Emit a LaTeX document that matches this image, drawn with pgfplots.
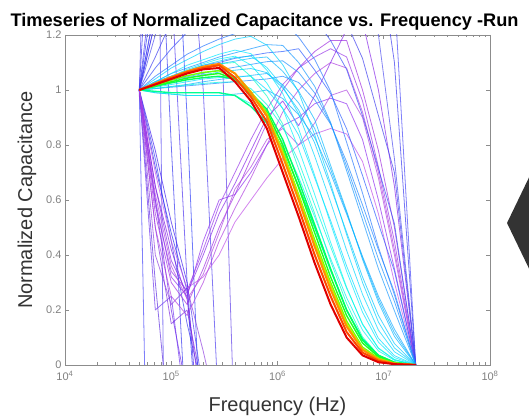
\documentclass[border=0pt]{standalone}
\usepackage{fontspec}
\setmainfont{Liberation Sans}
\usepackage{pgfplots}
\usepackage{pgfplotstable}
\pgfplotsset{compat=1.18}

\pgfplotstableread{
f r1 r2 r3 y1 g1 g2 g3 g4 c1 c9 c2 c3 c4 c5 c8 c6 c7 c10 c11 b1 b2 b3 b4 p1 p2 p3 p4 p5 v1 v2 v3
5e4 1.0 1.0 1.0 1.0 1.0 1.0 1.0 1.0 1.0 1.0 1.0 1.0 1.0 1.0 1.0 1.0 1.0 1.0 1.0 1.0 1.0 1.0 1.0 1.0 1.0 1.0 1.0 1.0 1.0 1.0 1.0
7.08e4 1.02 1.022 1.024 1.022 1.018 1.015 1.013 0.995 1.02 1.006 0.99 1.03 1.01 1.04 1.015 1.02 0.99 1.03 1.005 1.05 1.03 1.08 1.12 0.55 0.5 0.6 0.7 0.65 1.3 1.2 1.25
1e5 1.04 1.044 1.047 1.044 1.036 1.03 1.026 0.99 1.04 1.012 0.985 1.06 1.02 1.08 1.03 1.04 0.985 1.06 1.01 1.09 1.05 1.15 1.25 0.30 0.25 0.32 0.45 0.38 1.5 1.4 1.45
1.41e5 1.06 1.065 1.068 1.064 1.052 1.043 1.037 0.99 1.06 1.018 0.98 1.09 1.03 1.11 1.045 1.06 0.98 1.08 1.015 1.13 1.07 1.21 1.35 0.22 0.18 0.25 0.28 0.26 1.6 1.5 1.5
2e5 1.075 1.08 1.085 1.08 1.064 1.053 1.045 0.99 1.08 1.024 0.98 1.11 1.04 1.14 1.055 1.08 0.98 1.10 1.02 1.16 1.09 1.26 1.4 0.35 0.30 0.45 0.32 0.40 1.6 1.5 1.5
2.82e5 1.08 1.09 1.095 1.09 1.07 1.06 1.05 0.99 1.095 1.028 0.98 1.13 1.045 1.165 1.065 1.095 0.98 1.12 1.025 1.185 1.10 1.30 1.4 0.50 0.45 0.60 0.40 0.55 1.6 1.5 1.5
3.98e5 1.03 1.045 1.06 1.06 1.045 1.04 1.04 0.98 1.10 1.03 0.98 1.145 1.05 1.185 1.072 1.105 0.985 1.135 1.03 1.205 1.115 1.32 1.4 0.62 0.57 0.62 0.52 0.66 1.6 1.5 1.5
5.62e5 0.96 0.975 0.99 0.995 0.985 0.985 0.99 0.94 1.049 1.005 0.95 1.132 1.05 1.195 1.078 1.115 0.99 1.15 1.035 1.225 1.125 1.33 1.4 0.75 0.68 0.70 0.60 0.78 1.6 1.5 1.5
7.94e5 0.86 0.885 0.905 0.915 0.91 0.92 0.93 0.88 0.978 0.947 0.89 1.072 1.001 1.163 1.063 1.12 1.0 1.165 1.04 1.24 1.135 1.33 1.4 0.88 0.80 0.80 0.68 0.90 1.6 1.5 1.5
1.12e6 0.70 0.73 0.76 0.775 0.78 0.80 0.82 0.79 0.876 0.865 0.81 0.987 0.933 1.092 1.007 1.068 0.969 1.162 1.05 1.25 1.14 1.32 1.4 1.0 0.92 0.87 0.75 0.96 1.6 1.5 1.5
1.58e6 0.54 0.57 0.60 0.615 0.62 0.645 0.67 0.65 0.713 0.74 0.683 0.859 0.836 0.992 0.927 0.996 0.91 1.10 1.027 1.192 1.15 1.30 1.4 1.08 1.0 0.90 0.80 0.87 1.6 1.5 1.5
2.24e6 0.37 0.40 0.43 0.445 0.455 0.48 0.51 0.50 0.55 0.582 0.538 0.689 0.68 0.837 0.807 0.892 0.827 1.013 0.964 1.111 1.072 1.26 1.4 1.14 1.06 0.95 0.84 0.98 1.6 1.5 1.5
3.16e6 0.22 0.25 0.275 0.29 0.30 0.32 0.35 0.345 0.377 0.43 0.387 0.514 0.525 0.659 0.647 0.726 0.697 0.882 0.876 0.995 0.987 1.18 1.335 1.18 1.10 0.97 0.86 1.10 1.6 1.5 1.5
4.47e6 0.10 0.12 0.14 0.15 0.16 0.18 0.20 0.20 0.224 0.279 0.245 0.341 0.36 0.474 0.483 0.56 0.549 0.707 0.739 0.81 0.859 1.075 1.244 1.18 1.08 0.95 0.84 1.22 1.6 1.5 1.5
6.31e6 0.035 0.045 0.055 0.06 0.065 0.08 0.09 0.095 0.102 0.15 0.127 0.192 0.214 0.30 0.32 0.384 0.395 0.528 0.582 0.625 0.689 0.907 1.115 1.0 0.92 0.82 0.74 1.25 1.6 1.5 1.5
8.91e6 0.01 0.015 0.02 0.022 0.025 0.03 0.035 0.035 0.036 0.062 0.051 0.083 0.097 0.156 0.18 0.228 0.25 0.35 0.419 0.428 0.514 0.714 0.907 0.78 0.70 0.60 0.55 1.0 1.6 1.2 1.5
1.26e7 0.003 0.004 0.005 0.006 0.007 0.008 0.01 0.01 0.01 0.02 0.017 0.027 0.034 0.062 0.078 0.104 0.13 0.197 0.265 0.255 0.341 0.514 0.70 0.5 0.42 0.35 0.30 0.65 1.35 0.75 1.1
2e7 0 0 0 0 0 0 0 0 0 0 0 0 0 0 0 0 0 0 0 0 0 0 0 0 0 0 0 0 0 0 0
}\curves

\pgfplotstableread{
f c12 c13 c14 c15 p6 p7
5e4 1.0 1.0 1.0 1.0 1.0 1.0
7.08e4 1.025 1.005 1.018 1.025 0.58 0.62
1e5 1.05 1.013 1.035 1.05 0.34 0.36
1.41e5 1.07 1.02 1.048 1.075 0.27 0.24
2e5 1.09 1.03 1.06 1.095 0.42 0.33
2.82e5 1.105 1.038 1.073 1.113 0.58 0.48
3.98e5 1.118 1.045 1.083 1.123 0.70 0.64
5.62e5 1.123 1.053 1.093 1.091 0.82 0.72
7.94e5 1.082 1.06 1.103 1.025 0.93 0.82
1.12e6 1.013 1.019 1.106 0.932 1.02 0.86
1.58e6 0.914 0.953 1.064 0.786 1.08 0.80
2.24e6 0.759 0.86 0.989 0.62 1.12 0.88
3.16e6 0.592 0.712 0.879 0.446 1.15 0.98
4.47e6 0.417 0.555 0.723 0.283 1.12 1.0
6.31e6 0.257 0.39 0.555 0.147 0.96 0.9
8.91e6 0.127 0.239 0.385 0.06 0.72 0.68
1.26e7 0.048 0.117 0.231 0.019 0.45 0.4
2e7 0 0 0 0 0 0
}\curvesb

\definecolor{cr1}{HTML}{E00000}\definecolor{cr2}{HTML}{FF4800}\definecolor{cr3}{HTML}{FF9000}
\definecolor{cy1}{HTML}{C0F000}\definecolor{cg1}{HTML}{70FF00}\definecolor{cg2}{HTML}{20FF20}
\definecolor{cg3}{HTML}{00FF60}\definecolor{cg4}{HTML}{00FF90}
\definecolor{cc1}{HTML}{00FFC8}\definecolor{cc9}{HTML}{00F8E0}\definecolor{cc2}{HTML}{00F0F0}
\definecolor{cc3}{HTML}{00E8FF}\definecolor{cc4}{HTML}{00DCFF}\definecolor{cc5}{HTML}{00D0FF}
\definecolor{cc8}{HTML}{00C4FF}\definecolor{cc6}{HTML}{08B8FF}\definecolor{cc7}{HTML}{10A8FF}
\definecolor{cc10}{HTML}{1898FF}\definecolor{cc11}{HTML}{2088FF}
\definecolor{cc12}{HTML}{00D6FF}\definecolor{cc13}{HTML}{0CB0FF}\definecolor{cc14}{HTML}{1C90FF}
\definecolor{cc15}{HTML}{00F4F8}
\definecolor{cb1}{HTML}{2878FF}\definecolor{cb2}{HTML}{3060FF}\definecolor{cb3}{HTML}{3850F8}
\definecolor{cb4}{HTML}{4040F0}
\definecolor{cp1}{HTML}{A030E0}\definecolor{cp2}{HTML}{B040E0}\definecolor{cp3}{HTML}{9030F0}
\definecolor{cp4}{HTML}{C050E8}\definecolor{cp5}{HTML}{8828E8}
\definecolor{cp6}{HTML}{9838E8}\definecolor{cp7}{HTML}{B048E0}
\definecolor{cv1}{HTML}{4848F8}\definecolor{cv2}{HTML}{5050F0}\definecolor{cv3}{HTML}{3C3CF0}
\definecolor{cw1}{HTML}{6030E0}\definecolor{cw2}{HTML}{4040F0}\definecolor{cw3}{HTML}{7028E8}
\definecolor{cw4}{HTML}{3838F0}\definecolor{cw5}{HTML}{5038F0}\definecolor{cw6}{HTML}{8030E0}
\definecolor{cw7}{HTML}{5040F0}\definecolor{cw8}{HTML}{6040E8}\definecolor{cw9}{HTML}{4848F8}
\definecolor{cw10}{HTML}{7038F0}\definecolor{cw11}{HTML}{3040F8}\definecolor{cw12}{HTML}{9040E0}
\definecolor{cw13}{HTML}{3030F0}\definecolor{cw14}{HTML}{4020F0}\definecolor{cw15}{HTML}{8020E0}
\definecolor{cw16}{HTML}{5848F0}

\pgfplotsset{
  thinl/.style={line width=0.8pt, opacity=0.7, line join=round},
  midl/.style={line width=1.4pt, line join=round},
  thickl/.style={line width=2pt, line join=round},
}

\begin{document}
\begin{tikzpicture}
\begin{axis}[
  at={(0pt,0pt)}, anchor=south west,
  scale only axis, width=425pt, height=330pt,
  xmode=log, xmin=1e4, xmax=1e8, ymin=0, ymax=1.2,
  xtick={1e4,1e5,1e6,1e7,1e8},
  xticklabels={10\textsuperscript{4},10\textsuperscript{5},10\textsuperscript{6},10\textsuperscript{7},10\textsuperscript{8}},
  ytick={0,0.2,0.4,0.6,0.8,1,1.2},
  yticklabels={0,0.2,0.4,0.6,0.8,1,1.2},
  tick align=inside,
  major tick length=4pt, minor tick length=2.5pt,
  axis line style={draw=black!45, line width=0.8pt},
  every tick/.style={draw=black!45, line width=0.6pt},
  tick label style={font=\fontsize{11}{12}\selectfont, text=black!50},
  xticklabel style={yshift=-3pt},
  xlabel={Frequency (Hz)}, ylabel={Normalized Capacitance},
  label style={font=\fontsize{20}{22}\selectfont, text=black!80},
  xlabel style={at={(axis description cs:0.5,-0.124)}, anchor=center},
  ylabel style={at={(axis description cs:-0.0894,0.5)}, anchor=center},
  clip=true, no markers,
]
% erratic early series
\addplot[thinl, cw9] coordinates {(5e4,1) (7.08e4,-2)};
\addplot[thinl, cw16] coordinates {(5e4,1) (7.08e4,3.0) (1e5,-3)};
\addplot[thinl, cw1] coordinates {(5e4,1) (7.08e4,0.3) (1e5,-0.3)};
\addplot[thinl, cw2] coordinates {(5e4,1) (7.08e4,0.75) (1e5,0.45) (1.41e5,0.15) (2e5,-0.1)};
\addplot[thinl, cw3] coordinates {(5e4,1) (7.08e4,0.6) (1e5,0.2) (1.41e5,-0.1)};
\addplot[thinl, cw4] coordinates {(5e4,1) (7.08e4,2.0) (1e5,0.8) (1.41e5,-0.3)};
\addplot[thinl, cw5] coordinates {(5e4,1) (7.08e4,1.5) (1e5,1.4) (1.41e5,0.3) (2e5,-0.1)};
\addplot[thinl, cw6] coordinates {(5e4,1) (7.08e4,0.5) (1e5,0.15) (1.41e5,0.2) (2e5,-0.1)};
\addplot[thinl, cw7] coordinates {(5e4,1) (7.08e4,1.3) (1e5,1.6) (1.41e5,1.7) (2e5,1.0) (2.82e5,-0.2)};
\addplot[thinl, cw8] coordinates {(5e4,1) (1e5,1.5) (2e5,1.9) (2.82e5,1.5) (3.98e5,-0.3)};
\addplot[thinl, cw10] coordinates {(5e4,1) (7.08e4,0.2) (1e5,0.25) (1.41e5,-0.2)};
\addplot[thinl, cw11] coordinates {(5e4,1) (7.08e4,1.4) (1e5,2.0) (1.41e5,0.9) (2e5,-0.5)};
\addplot[thinl, cw12] coordinates {(5e4,1) (7.08e4,0.4) (1e5,0.22) (1.41e5,0.28) (2e5,0.05) (2.82e5,-0.2)};
\addplot[thinl, cw13] coordinates {(5e4,1) (7.08e4,0.72) (1e5,0.48) (1.41e5,0.27) (1.58e5,0) (1.7e5,-0.1)};
\addplot[thinl, cw14] coordinates {(5e4,1) (7.08e4,0.78) (1e5,0.52) (1.41e5,0.3) (1.7e5,-0.1)};
\addplot[thinl, cw15] coordinates {(5e4,1) (7.08e4,0.65) (1e5,0.42) (1.41e5,0.24) (2e5,-0.2)};
% purple recovering series
\addplot[thinl, cp1] table[x=f,y=p1] {\curves};
\addplot[thinl, cp2] table[x=f,y=p2] {\curves};
\addplot[thinl, cp3] table[x=f,y=p3] {\curves};
\addplot[thinl, cp4] table[x=f,y=p4] {\curves};
\addplot[thinl, cp5] table[x=f,y=p5] {\curves};
\addplot[thinl, cp6] table[x=f,y=p6] {\curvesb};
\addplot[thinl, cp7] table[x=f,y=p7] {\curvesb};
% blue series
\addplot[thinl, cv1] table[x=f,y=v1] {\curves};
\addplot[thinl, cv2] table[x=f,y=v2] {\curves};
\addplot[thinl, cv3] table[x=f,y=v3] {\curves};
\addplot[thinl, cb4] table[x=f,y=b4] {\curves};
\addplot[thinl, cb3] table[x=f,y=b3] {\curves};
\addplot[thinl, cb2] table[x=f,y=b2] {\curves};
\addplot[thinl, cb1] table[x=f,y=b1] {\curves};
% cyan series
\addplot[thinl, cc11] table[x=f,y=c11] {\curves};
\addplot[thinl, cc14] table[x=f,y=c14] {\curvesb};
\addplot[thinl, cc10] table[x=f,y=c10] {\curves};
\addplot[thinl, cc7] table[x=f,y=c7] {\curves};
\addplot[thinl, cc13] table[x=f,y=c13] {\curvesb};
\addplot[thinl, cc6] table[x=f,y=c6] {\curves};
\addplot[thinl, cc8] table[x=f,y=c8] {\curves};
\addplot[thinl, cc5] table[x=f,y=c5] {\curves};
\addplot[thinl, cc12] table[x=f,y=c12] {\curvesb};
\addplot[thinl, cc4] table[x=f,y=c4] {\curves};
\addplot[thinl, cc3] table[x=f,y=c3] {\curves};
\addplot[thinl, cc15] table[x=f,y=c15] {\curvesb};
\addplot[thinl, cc2] table[x=f,y=c2] {\curves};
\addplot[thinl, cc9] table[x=f,y=c9] {\curves};
\addplot[thinl, cc1] table[x=f,y=c1] {\curves};
% green to red (latest)
\addplot[midl, cg4] table[x=f,y=g4] {\curves};
\addplot[midl, cg3] table[x=f,y=g3] {\curves};
\addplot[midl, cg2] table[x=f,y=g2] {\curves};
\addplot[midl, cg1] table[x=f,y=g1] {\curves};
\addplot[midl, cy1] table[x=f,y=y1] {\curves};
\addplot[thickl, cr3] table[x=f,y=r3] {\curves};
\addplot[thickl, cr2] table[x=f,y=r2] {\curves};
\addplot[thickl, cr1] table[x=f,y=r1] {\curves};
\end{axis}
\node[anchor=base west, font=\fontsize{18.2}{20}\selectfont\bfseries] at (-58pt,338pt)
  {Timeseries of Normalized Capacitance vs. Frequency -Run};
\fill[black!80] (442pt,142pt) -- (470pt,200pt) -- (470pt,84pt) -- cycle;
\pgfresetboundingbox
\useasboundingbox (-65pt,-50pt) rectangle (464pt,365pt);
\end{tikzpicture}
\end{document}
